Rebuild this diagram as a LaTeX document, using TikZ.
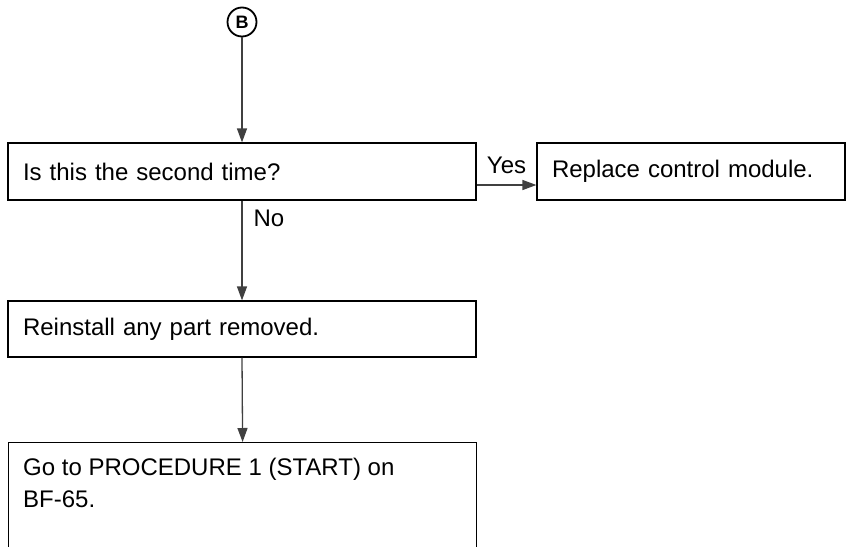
\documentclass[tikz,border=0pt]{standalone}
\usepackage{fontspec}
\setmainfont{Liberation Sans}
\usetikzlibrary{arrows.meta,positioning}
\begin{document}
\begin{tikzpicture}[x=1pt,y=-1pt,
  every node/.style={font=\fontsize{24}{32}\selectfont},
  boxshape/.style={draw=black, line width=1.2pt, rectangle, inner xsep=15pt, align=left},
  conn/.style={draw=black!75, line width=1.3pt, -{Triangle[length=14pt,width=10pt]}},
  lbl/.style={inner sep=1pt}]
\useasboundingbox (0,0) rectangle (850,546);
\node[draw=black, line width=1.8pt, circle, minimum size=29pt, inner sep=0pt,
      font=\fontsize{18}{18}\selectfont\bfseries] (B) at (242,22) {B};
\node[boxshape, minimum width=468pt, minimum height=57pt, text width=438pt] (box1) at (242,171.5) {Is this the second time?};
\node[boxshape, minimum width=308pt, minimum height=57pt, text width=278pt] (box2) at (691,171.5) {Replace control module.};
\node[boxshape, minimum width=468pt, minimum height=56pt, text width=438pt] (box3) at (242,329) {Reinstall any part removed.};
\node[boxshape, anchor=north west, minimum width=468pt, minimum height=140pt] (box4) at (8,442) {};
\node[anchor=north west, align=left, inner sep=0pt] (t4) at ([xshift=15pt,yshift=-16pt]box4.north west) {Go to PROCEDURE 1 (START) on\\BF-65.};
\draw[conn] (B) -- (box1.north);
\coordinate (yesstart) at ([yshift=-13.5pt]box1.east);
\draw[conn] (yesstart) -- (yesstart -| box2.west) node[lbl, midway, above=10pt] (yes) {Yes};
\draw[conn] (box1.south) -- (box3.north) node[lbl, pos=0.18, right=10pt] (no) {No};
\draw[conn] (box3.south) -- (box4.north);
\end{tikzpicture}
\end{document}
